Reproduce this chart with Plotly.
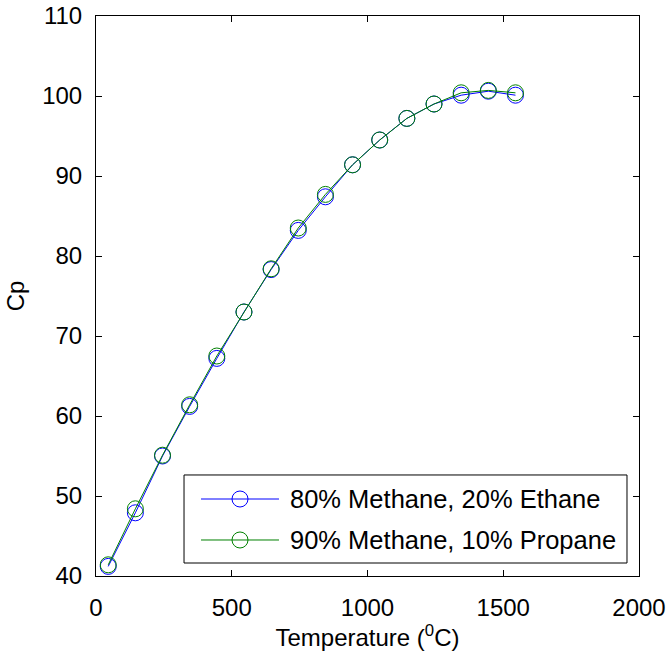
import plotly.graph_objects as go

temperature = [45, 145, 245, 345, 445, 545, 645, 745, 845, 945, 1045, 1145, 1245, 1345, 1445, 1545]
cp_ethane = [41.2, 47.9, 55.0, 61.2, 67.2, 73.0, 78.3, 83.2, 87.4, 91.4, 94.5, 97.2, 99.0, 100.1, 100.6, 100.1]
cp_propane = [41.4, 48.4, 55.1, 61.4, 67.5, 73.0, 78.4, 83.5, 87.7, 91.4, 94.5, 97.2, 99.0, 100.4, 100.7, 100.4]
names = ["80% Methane, 20% Ethane", "90% Methane, 10% Propane"]
colors = ["#0000FF", "#008000"]

FONT = "Liberation Sans, Arial, sans-serif"

fig = go.Figure()
for ys, name, col in zip([cp_ethane, cp_propane], names, colors):
    fig.add_trace(go.Scatter(
        x=temperature, y=ys, mode="lines+markers", name=name,
        line=dict(color=col, width=1),
        marker=dict(symbol="circle-open", size=16, color=col, line=dict(width=1, color=col)),
        showlegend=False,
    ))

# Manual legend (MATLAB style: long line sample with a centred marker)
fig.add_shape(type="rect", xref="paper", yref="paper",
              x0=0.1621, x1=0.9779, y0=0.0232, y1=0.1804,
              line=dict(color="black", width=1), fillcolor="white", layer="above")
row_y = [0.1375, 0.0643]
for name, col, yy in zip(names, colors, row_y):
    fig.add_shape(type="line", xref="paper", yref="paper",
                  x0=0.1934, x1=0.3370, y0=yy, y1=yy,
                  line=dict(color=col, width=1), layer="above")
    fig.add_shape(type="circle", xref="paper", yref="paper",
                  xsizemode="pixel", ysizemode="pixel",
                  xanchor=0.2652, yanchor=yy, x0=-8, x1=8, y0=-8, y1=8,
                  line=dict(color=col, width=1), fillcolor="rgba(0,0,0,0)", layer="above")
    fig.add_annotation(xref="paper", yref="paper", x=0.3536, y=yy,
                       xanchor="left", yanchor="middle", showarrow=False,
                       text=name, font=dict(family=FONT, size=25.5, color="black"))

axis_common = dict(
    showline=True, linecolor="black", linewidth=1, mirror="ticks",
    ticks="inside", ticklen=6, tickcolor="black", tickwidth=1,
    showgrid=False, zeroline=False, automargin=False,
    ticklabeloverflow="allow",
    tickfont=dict(family=FONT, size=24, color="black"),
)

fig.update_layout(
    width=668, height=665,
    margin=dict(l=96, r=29, t=16, b=89),
    paper_bgcolor="white", plot_bgcolor="white",
    font=dict(family=FONT, color="black"),
    showlegend=False,
    xaxis=dict(range=[0, 2000], tickvals=[0, 500, 1000, 1500, 2000],
               ticklabelstandoff=10,
               title=dict(text="Temperature (<sup>0</sup>C)", font=dict(family=FONT, size=24), standoff=0),
               **axis_common),
    yaxis=dict(range=[40, 110], tickvals=[40, 50, 60, 70, 80, 90, 100, 110],
               ticklabelstandoff=8,
               title=dict(text="Cp", font=dict(family=FONT, size=24), standoff=10),
               **axis_common),
)

# remove the browser's default 8px body margin so the figure fills the window
fig.write_html("out.html",
               config={"displayModeBar": False},
               post_script="document.body.style.margin='0';document.body.style.overflow='hidden';")
